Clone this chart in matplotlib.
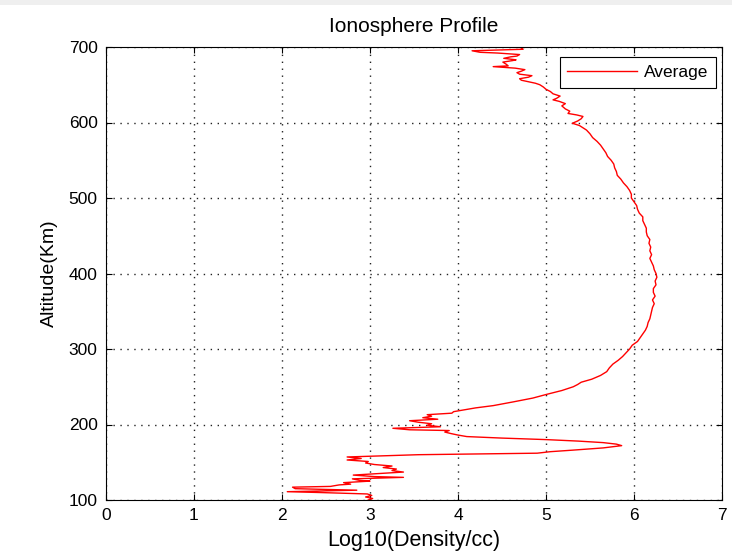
import matplotlib
matplotlib.use('Agg')
import matplotlib.pyplot as plt
from matplotlib.patches import Rectangle
from matplotlib.ticker import MultipleLocator

plt.rcParams['font.family'] = ['Liberation Sans', 'DejaVu Sans']

# Averaged electron density profile: altitude (km) vs log10 density (per cc)
altitude = [
    100, 102, 104, 106, 108, 110, 111, 113, 115, 117, 118, 120, 121, 123, 125, 126,
    128, 130, 131, 133, 135, 137, 139, 141, 143, 145, 147, 149, 151, 153, 155, 157,
    158, 160, 162, 164, 166, 169, 172, 174, 176, 178, 180, 182, 184, 186, 188, 190,
    192, 193, 195, 196, 197, 199, 201, 203, 205, 207, 209, 211, 213, 215, 217, 220,
    222, 225, 230, 235, 240, 245, 250, 253, 256, 260, 265, 270, 275, 280, 285, 290,
    295, 300, 305, 310, 315, 320, 325, 330, 335, 340, 345, 350, 355, 360, 365, 370,
    375, 380, 385, 390, 395, 400, 405, 410, 415, 420, 425, 430, 435, 440, 445, 450,
    455, 460, 465, 470, 475, 480, 485, 490, 495, 500, 505, 510, 515, 520, 525, 530,
    535, 540, 545, 550, 555, 560, 565, 570, 575, 580, 585, 590, 593, 596, 599, 602,
    605, 608, 610, 612, 615, 618, 620, 622, 625, 628, 630, 632, 635, 638, 641, 644,
    647, 650, 652, 654, 656, 658, 660, 662, 664, 666, 668, 670, 672, 674, 675, 677,
    680, 682, 683, 685, 687, 688, 690, 692, 693, 695, 696, 697, 698, 700,
]
log_density = [
    2.98, 3.03, 2.95, 3.02, 2.97, 2.40, 2.06, 2.85, 2.15, 2.12, 2.55, 2.65, 2.78, 2.70, 3.00, 2.88,
    2.80, 3.38, 3.05, 2.81, 3.10, 3.38, 3.25, 3.30, 3.15, 3.25, 3.05, 2.95, 2.98, 2.74, 2.90, 2.74,
    3.00, 3.55, 4.90, 5.05, 5.30, 5.65, 5.86, 5.80, 5.65, 5.37, 5.00, 4.50, 4.10, 4.00, 3.92, 3.85,
    3.90, 3.45, 3.26, 3.55, 3.80, 3.65, 3.70, 3.55, 3.45, 3.77, 3.60, 3.70, 3.65, 3.93, 3.95, 4.10,
    4.20, 4.40, 4.63, 4.85, 5.01, 5.18, 5.31, 5.36, 5.40, 5.52, 5.62, 5.69, 5.72, 5.76, 5.82, 5.87,
    5.91, 5.95, 5.98, 6.04, 6.07, 6.10, 6.13, 6.15, 6.16, 6.18, 6.19, 6.20, 6.21, 6.23, 6.21, 6.24,
    6.22, 6.22, 6.25, 6.24, 6.26, 6.25, 6.23, 6.22, 6.20, 6.18, 6.20, 6.18, 6.19, 6.17, 6.18, 6.15,
    6.14, 6.14, 6.12, 6.10, 6.10, 6.06, 6.04, 6.03, 6.00, 5.97, 5.97, 5.95, 5.92, 5.88, 5.85, 5.81,
    5.80, 5.78, 5.77, 5.74, 5.70, 5.68, 5.65, 5.62, 5.58, 5.53, 5.50, 5.46, 5.42, 5.38, 5.30, 5.36,
    5.40, 5.42, 5.35, 5.25, 5.27, 5.22, 5.20, 5.18, 5.22, 5.15, 5.08, 5.12, 5.16, 5.08, 5.05, 5.00,
    4.97, 4.93, 4.88, 4.80, 4.72, 4.70, 4.80, 4.84, 4.70, 4.67, 4.72, 4.76, 4.65, 4.40, 4.57, 4.55,
    4.51, 4.62, 4.66, 4.52, 4.60, 4.67, 4.70, 4.45, 4.25, 4.16, 4.45, 4.74, 4.72, 4.74,
]

fig = plt.figure(figsize=(7.32, 5.53), dpi=100)
fig.patch.set_facecolor('white')
# thin grey window strip along the top edge
fig.patches.append(Rectangle((0, 1 - 5 / 553), 1, 5 / 553, transform=fig.transFigure,
                             facecolor='#efefef', edgecolor='none', zorder=0))

ax = fig.add_axes([106 / 732, 1 - 500 / 553, 616 / 732, 453 / 553])
ax.plot(log_density, altitude, color='red', linewidth=1.0, label='Average')

ax.set_xlim(0, 7)
ax.set_ylim(100, 700)
ax.xaxis.set_major_locator(MultipleLocator(1))
ax.yaxis.set_major_locator(MultipleLocator(100))
ax.grid(True, linestyle=(0, (1, 4)), color='#222222', linewidth=1.0)
ax.tick_params(direction='in', length=4, labelsize=12.5, top=True, right=True,
               labeltop=False, labelright=False, pad=6)
for s in ax.spines.values():
    s.set_linewidth(0.8)

ax.set_title('Ionosphere Profile', fontsize=15, pad=11)
ax.set_xlabel('Log10(Density/cc)', fontsize=15.5, labelpad=5)
ax.set_ylabel('Altitude(Km)', fontsize=14, labelpad=8)

leg = ax.legend(loc='upper right', bbox_to_anchor=(610 / 616, 443 / 453),
                borderaxespad=0, fontsize=12.5, fancybox=False, framealpha=1,
                edgecolor='black', handlelength=4.0, borderpad=0.45, handletextpad=0.4)
leg.get_frame().set_linewidth(0.8)

fig.savefig('out.png', dpi=100)
